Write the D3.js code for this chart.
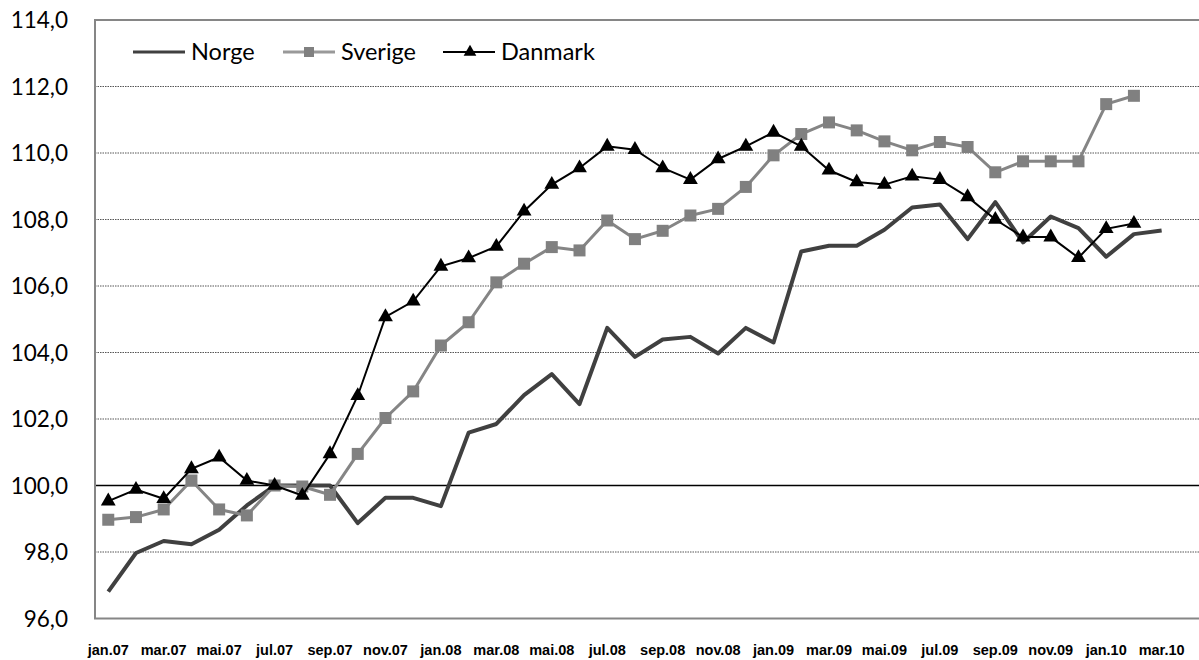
<!DOCTYPE html>
<html lang="no">
<head>
<meta charset="UTF-8">
<title>Norge, Sverige, Danmark</title>
<script src="https://d3js.org/d3.v7.min.js"></script>
<style>
  body { margin: 0; background: #fff; }
  svg { display: block; }
</style>
</head>
<body>
<svg id="chart" width="1199" height="660"></svg>
<script>
// months jan.07 .. mar.10
const months = ["jan.07","feb.07","mar.07","apr.07","mai.07","jun.07","jul.07","aug.07","sep.07","okt.07","nov.07","des.07",
  "jan.08","feb.08","mar.08","apr.08","mai.08","jun.08","jul.08","aug.08","sep.08","okt.08","nov.08","des.08",
  "jan.09","feb.09","mar.09","apr.09","mai.09","jun.09","jul.09","aug.09","sep.09","okt.09","nov.09","des.09",
  "jan.10","feb.10","mar.10"];

const norge = [96.81, 97.97, 98.33, 98.23, 98.67, 99.40, 100.00, 100.00, 100.00, 98.87, 99.63, 99.63,
  99.38, 101.59, 101.85, 102.72, 103.35, 102.45, 104.74, 103.87, 104.39, 104.47, 103.97, 104.74,
  104.30, 107.04, 107.21, 107.21, 107.69, 108.36, 108.45, 107.41, 108.52, 107.31, 108.09, 107.74,
  106.88, 107.56, 107.67];

const sverige = [98.97, 99.05, 99.28, 100.15, 99.28, 99.10, 100.00, 99.97, 99.72, 100.95, 102.03, 102.83,
  104.21, 104.91, 106.11, 106.67, 107.17, 107.07, 107.97, 107.41, 107.66, 108.12, 108.32, 108.98,
  109.93, 110.57, 110.92, 110.68, 110.35, 110.08, 110.33, 110.18, 109.42, 109.75, 109.75, 109.75,
  111.47, 111.72];

const danmark = [99.53, 99.88, 99.60, 100.50, 100.85, 100.15, 100.00, 99.70, 100.95, 102.70, 105.07, 105.54,
  106.59, 106.84, 107.19, 108.25, 109.05, 109.55, 110.20, 110.10, 109.55, 109.20, 109.82, 110.20,
  110.62, 110.20, 109.48, 109.13, 109.05, 109.30, 109.20, 108.68, 108.00, 107.47, 107.47, 106.85,
  107.72, 107.88];

const yTicks = [96, 98, 100, 102, 104, 106, 108, 110, 112, 114];

const svg = d3.select("#chart");
const plotL = 95, plotR = 1201, plotT = 20, plotB = 618.5;

const x = d3.scaleBand().domain(months).range([94.4, 1175.5]).padding(0);
const cx = m => x(m) + x.bandwidth() / 2;
const y = d3.scaleLinear().domain([96, 114]).range([plotB, plotT]);

const font = "Lato, 'Open Sans', sans-serif";

// gridlines
svg.append("g").selectAll("line")
  .data(yTicks.filter(d => d > 96 && d < 114))
  .join("line")
  .attr("x1", plotL).attr("x2", plotR)
  .attr("y1", d => y(d)).attr("y2", d => y(d))
  .attr("stroke", d => d === 100 ? "#000" : "#555")
  .attr("stroke-width", d => d === 100 ? 1.3 : 1)
  .attr("stroke-dasharray", d => d === 100 ? null : "1.5,1");

// frame
svg.append("path")
  .attr("d", `M${plotR},${plotT}H${plotL}V${plotB}H${plotR}`)
  .attr("fill", "none").attr("stroke", "#868686").attr("stroke-width", 2);

// y labels
svg.append("g").selectAll("text")
  .data(yTicks).join("text")
  .attr("x", 68).attr("y", d => y(d) + 8)
  .attr("text-anchor", "end")
  .attr("font-family", font).attr("font-size", 22.5).attr("fill", "#000")
  .text(d => d.toFixed(1).replace(".", ","));

// x labels every 2nd month
svg.append("g").selectAll("text")
  .data(months.filter((m, i) => i % 2 === 0)).join("text")
  .attr("x", d => cx(d)).attr("y", 655)
  .attr("text-anchor", "middle")
  .attr("font-family", "'Liberation Sans', Arial, sans-serif")
  .attr("font-weight", "bold").attr("font-size", 14.5).attr("fill", "#000")
  .text(d => d);

const line = d3.line().x((d, i) => cx(months[i])).y(d => y(d));

// Norge
svg.append("path").datum(norge)
  .attr("d", line).attr("fill", "none")
  .attr("stroke", "#404040").attr("stroke-width", 4).attr("stroke-linejoin", "round");

// Sverige
svg.append("path").datum(sverige)
  .attr("d", line).attr("fill", "none")
  .attr("stroke", "#858585").attr("stroke-width", 3).attr("stroke-linejoin", "round");
svg.append("g").selectAll("rect")
  .data(sverige).join("rect")
  .attr("x", (d, i) => cx(months[i]) - 6).attr("y", d => y(d) - 6)
  .attr("width", 12).attr("height", 12)
  .attr("fill", "#808080");

// Danmark
svg.append("path").datum(danmark)
  .attr("d", line).attr("fill", "none")
  .attr("stroke", "#000").attr("stroke-width", 2);
const tri = d3.symbol().type(d3.symbolTriangle).size(95);
svg.append("g").selectAll("path")
  .data(danmark).join("path")
  .attr("d", tri)
  .attr("transform", (d, i) => `translate(${cx(months[i])},${y(d)})`)
  .attr("fill", "#000");

// legend
const legend = [
  { name: "Norge", x: 133, color: "#404040", w: 3, mark: null },
  { name: "Sverige", x: 283, color: "#999", w: 3, mark: "square" },
  { name: "Danmark", x: 443, color: "#000", w: 2, mark: "triangle" }
];
const lg = svg.append("g").selectAll("g").data(legend).join("g")
  .attr("transform", d => `translate(${d.x},52)`);
lg.append("line").attr("x1", 0).attr("x2", 52)
  .attr("stroke", d => d.color).attr("stroke-width", d => d.w);
lg.filter(d => d.mark === "square").append("rect")
  .attr("x", 21).attr("y", -5).attr("width", 10).attr("height", 10).attr("fill", "#808080");
lg.filter(d => d.mark === "triangle").append("path")
  .attr("d", d3.symbol().type(d3.symbolTriangle).size(70))
  .attr("transform", "translate(27,0)").attr("fill", "#000");
lg.append("text").attr("x", 58).attr("y", 8)
  .attr("font-family", font).attr("font-size", 23.5).attr("fill", "#000")
  .text(d => d.name);
</script>
</body>
</html>
